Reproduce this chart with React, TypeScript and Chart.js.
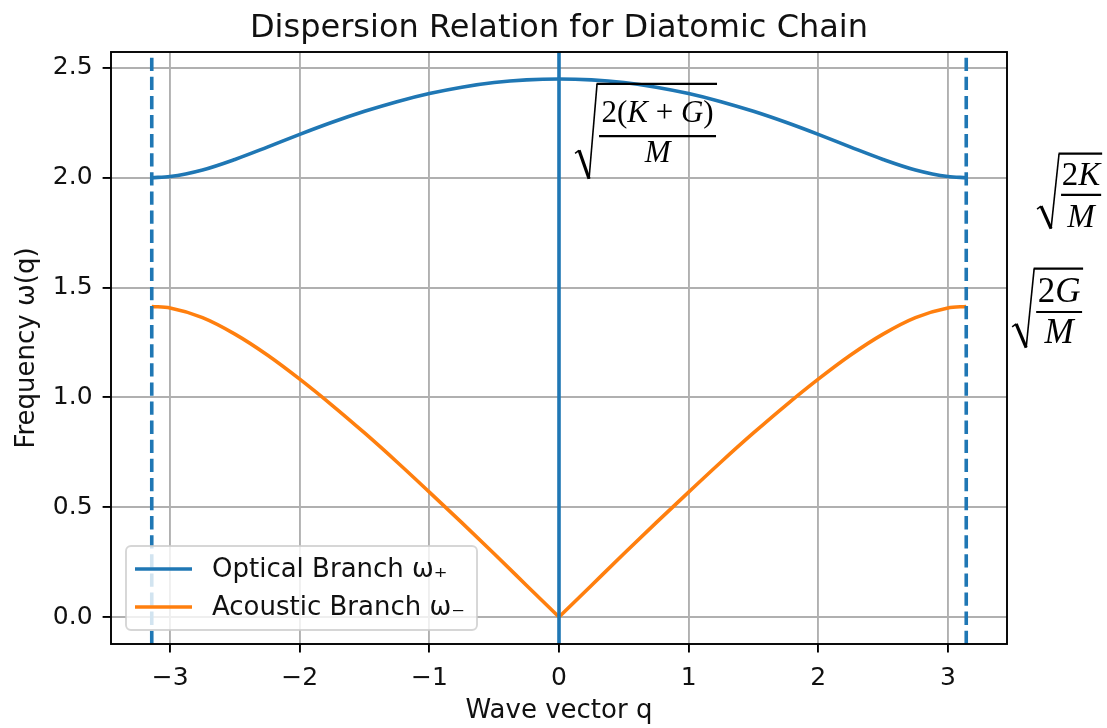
import React, { useEffect, useRef } from 'react';
import { Chart, registerables } from 'chart.js';

Chart.register(...registerables);

// ---- data ----
const Q_VALUES = [-3.1416, -3, -2.75, -2.5, -2.25, -2, -1.75, -1.5, -1.25, -1, -0.75, -0.5, -0.25, 0,
  0.25, 0.5, 0.75, 1, 1.25, 1.5, 1.75, 2, 2.25, 2.5, 2.75, 3, 3.1416];
const OPTICAL = [2.0, 2.005, 2.035, 2.083, 2.139, 2.197, 2.252, 2.302, 2.346, 2.383, 2.412, 2.433, 2.445, 2.449,
  2.445, 2.433, 2.412, 2.383, 2.346, 2.302, 2.252, 2.197, 2.139, 2.083, 2.035, 2.005, 2.0];
const ACOUSTIC = [1.414, 1.407, 1.363, 1.288, 1.193, 1.083, 0.964, 0.838, 0.706, 0.569, 0.43, 0.288, 0.144, 0,
  0.144, 0.288, 0.43, 0.569, 0.706, 0.838, 0.964, 1.083, 1.193, 1.288, 1.363, 1.407, 1.414];
const SERIES_NAMES = ['Optical Branch ω₊', 'Acoustic Branch ω₋'];
const SERIES_COLORS = ['#1f77b4', '#ff7f0e'];
const X_TICKS = [-3, -2, -1, 0, 1, 2, 3];
const Y_TICKS = [0, 0.5, 1, 1.5, 2, 2.5];
const X_RANGE = [-3.456, 3.456];
const Y_RANGE = [-0.1225, 2.572];
const ZONE_EDGES = [-3.1416, 3.1416]; // dashed vertical lines
const CENTER_LINES = [0]; // solid vertical line
const TITLE = 'Dispersion Relation for Diatomic Chain';
const X_LABEL = 'Wave vector q';
const Y_LABEL = 'Frequency ω(q)';

// math annotations (radical + fraction), anchored in data coordinates
type Run = [string, boolean];
const ANNOTATIONS: { x0: number; x1: number; yTop: number; yBottom: number; font: number; numGap: number; denGap: number; num: Run[]; den: Run[] }[] = [
  { x0: 0.147, x1: 1.219, yTop: 2.427, yBottom: 1.995, font: 31, numGap: 14, denGap: 26,
    num: [['2(', false], ['K', true], [' + ', false], ['G', true], [')', false]], den: [['M', true]] },
  { x0: 3.711, x1: 4.19, yTop: 2.109, yBottom: 1.768, font: 33, numGap: 10, denGap: 32,
    num: [['2', false], ['K', true]], den: [['M', true]] },
  { x0: 3.519, x1: 4.043, yTop: 1.586, yBottom: 1.227, font: 35, numGap: 10, denGap: 31,
    num: [['2', false], ['G', true]], den: [['M', true]] },
];

const SANS = '"DejaVu Sans", sans-serif';
const SERIF = '"Liberation Serif", "DejaVu Serif", serif';
const TEXT = '#111';
const LW = 3.6;
const TICK_FONT = 25;
const LABEL_FONT = 26;
const TITLE_FONT = 32;
const LEGEND_FONT = 26;

function fmtMinus(v: number, digits: number) {
  const s = v.toFixed(digits);
  return s.replace('-', '\u2212');
}

function drawRuns(ctx: CanvasRenderingContext2D, runs: Run[], cx: number, baseline: number, size: number) {
  const fontFor = (it: boolean) => `${it ? 'italic ' : ''}${size}px ${SERIF}`;
  let total = 0;
  const widths = runs.map(([t, it]) => {
    ctx.font = fontFor(it);
    const w = ctx.measureText(t).width;
    total += w;
    return w;
  });
  let xx = cx - total / 2;
  ctx.textAlign = 'left';
  ctx.textBaseline = 'alphabetic';
  runs.forEach(([t, it], i) => {
    ctx.font = fontFor(it);
    ctx.fillText(t, xx, baseline);
    xx += widths[i];
  });
}

const overlayPlugin = {
  id: 'overlay',
  beforeDraw(chart: any) {
    const { ctx, width, height } = chart;
    ctx.save();
    ctx.fillStyle = '#fff';
    ctx.fillRect(0, 0, width, height);
    ctx.restore();
  },
  afterDatasetsDraw(chart: any) {
    const { ctx, chartArea: ca, scales } = chart;
    const xs = scales.x;
    // vertical lines
    ctx.save();
    ctx.beginPath();
    ctx.rect(ca.left, ca.top, ca.right - ca.left, ca.bottom - ca.top);
    ctx.clip();
    ctx.strokeStyle = SERIES_COLORS[0];
    ctx.lineWidth = LW;
    ctx.lineCap = 'butt';
    const drawV = (v: number, dashed: boolean) => {
      const px = xs.getPixelForValue(v);
      ctx.setLineDash(dashed ? [13.3, 5.8] : []);
      ctx.beginPath();
      ctx.moveTo(px, ca.bottom);
      ctx.lineTo(px, ca.top);
      ctx.stroke();
    };
    ZONE_EDGES.forEach((v) => drawV(v, true));
    CENTER_LINES.forEach((v) => drawV(v, false));
    ctx.restore();

    // spines
    ctx.save();
    ctx.strokeStyle = '#000';
    ctx.lineWidth = 1.9;
    ctx.strokeRect(ca.left, ca.top, ca.right - ca.left, ca.bottom - ca.top);
    ctx.restore();

    // legend
    ctx.save();
    ctx.font = `${LEGEND_FONT}px ${SANS}`;
    const tw = Math.max(...SERIES_NAMES.map((n) => ctx.measureText(n).width));
    const bw = 86 + tw + 12;
    const bh = 84;
    const bx = ca.left + 15;
    const by = ca.bottom - 14 - bh;
    ctx.beginPath();
    ctx.roundRect(bx, by, bw, bh, 5);
    ctx.fillStyle = 'rgba(255,255,255,0.8)';
    ctx.fill();
    ctx.strokeStyle = 'rgba(204,204,204,0.8)';
    ctx.lineWidth = 1.9;
    ctx.stroke();
    SERIES_NAMES.forEach((name, i) => {
      const ry = by + 23 + i * 38;
      ctx.strokeStyle = SERIES_COLORS[i];
      ctx.lineWidth = LW;
      ctx.beginPath();
      ctx.moveTo(bx + 9, ry);
      ctx.lineTo(bx + 66, ry);
      ctx.stroke();
      ctx.fillStyle = TEXT;
      ctx.textAlign = 'left';
      ctx.textBaseline = 'middle';
      ctx.fillText(name, bx + 86, ry + 1);
    });
    ctx.restore();
  },
  afterDraw(chart: any) {
    const { ctx, chartArea: ca, scales } = chart;
    const xs = scales.x;
    const ys = scales.y;
    ctx.save();
    ctx.fillStyle = TEXT;
    // title
    ctx.font = `${TITLE_FONT}px ${SANS}`;
    ctx.textAlign = 'center';
    ctx.textBaseline = 'alphabetic';
    ctx.fillText(TITLE, (ca.left + ca.right) / 2, 37);
    // x label
    ctx.font = `${LABEL_FONT}px ${SANS}`;
    ctx.fillText(X_LABEL, (ca.left + ca.right) / 2, 718);
    // y label
    ctx.save();
    ctx.translate(34, (ca.top + ca.bottom) / 2);
    ctx.rotate(-Math.PI / 2);
    ctx.fillText(Y_LABEL, 0, 0);
    ctx.restore();

    // annotations
    ctx.strokeStyle = '#000';
    ctx.fillStyle = '#000';
    ANNOTATIONS.forEach((a) => {
      const L = xs.getPixelForValue(a.x0);
      const R = xs.getPixelForValue(a.x1);
      const T = ys.getPixelForValue(a.yTop);
      const B = ys.getPixelForValue(a.yBottom);
      const H = B - T;
      const vx = L + 19;
      const bpx = L + 11;
      const ty = B - 0.3 * H;
      ctx.lineCap = 'butt';
      ctx.lineJoin = 'miter';
      // small hook
      ctx.lineWidth = 1.5;
      ctx.beginPath();
      ctx.moveTo(L - 3, ty + 3);
      ctx.lineTo(L + 1, ty);
      ctx.stroke();
      // thick down stroke
      ctx.lineWidth = 3.2;
      ctx.beginPath();
      ctx.moveTo(L + 1, ty);
      ctx.lineTo(bpx, B);
      ctx.stroke();
      // thin up stroke
      ctx.lineWidth = 1.6;
      ctx.beginPath();
      ctx.moveTo(bpx, B);
      ctx.lineTo(vx, T);
      ctx.stroke();
      // overline
      ctx.lineWidth = 2.2;
      ctx.beginPath();
      ctx.moveTo(vx - 0.5, T);
      ctx.lineTo(R, T);
      ctx.stroke();
      // fraction bar
      const barY = T + 0.55 * H;
      const fl = vx + 2;
      const fr = R - 1;
      ctx.beginPath();
      ctx.moveTo(fl, barY);
      ctx.lineTo(fr, barY);
      ctx.stroke();
      const cx = (fl + fr) / 2;
      drawRuns(ctx, a.num, cx, barY - a.numGap, a.font);
      drawRuns(ctx, a.den, cx, barY + a.denGap, a.font);
    });
    ctx.restore();
  },
};

export default function App() {
  const canvasRef = useRef<HTMLCanvasElement | null>(null);

  useEffect(() => {
    const canvas = canvasRef.current;
    if (!canvas) return;
    const toPoints = (vals: number[], keep: (q: number) => boolean) =>
      Q_VALUES.map((q, i) => ({ x: q, y: vals[i] })).filter((p) => keep(p.x));
    const lineStyle = (color: string) => ({
      borderColor: color,
      backgroundColor: color,
      borderWidth: LW,
      pointRadius: 0,
      cubicInterpolationMode: 'monotone',
      fill: false,
    });
    const chart = new Chart(canvas, {
      type: 'line',
      data: {
        datasets: [
          { label: SERIES_NAMES[0], data: toPoints(OPTICAL, () => true), ...lineStyle(SERIES_COLORS[0]) },
          // acoustic branch has a cusp at q = 0: drawn as two smooth halves meeting there
          { label: SERIES_NAMES[1], data: toPoints(ACOUSTIC, (q) => q <= 0), ...lineStyle(SERIES_COLORS[1]) },
          { label: SERIES_NAMES[1], data: toPoints(ACOUSTIC, (q) => q >= 0), ...lineStyle(SERIES_COLORS[1]) },
        ],
      },
      options: {
        responsive: false,
        animation: false,
        devicePixelRatio: 1,
        layout: { padding: { top: 52, right: 100, left: 0, bottom: 0 } },
        plugins: {
          legend: { display: false },
          title: { display: false },
          tooltip: { enabled: false },
        },
        scales: {
          x: {
            type: 'linear',
            min: X_RANGE[0],
            max: X_RANGE[1],
            afterBuildTicks: (axis: any) => {
              axis.ticks = X_TICKS.map((v) => ({ value: v }));
            },
            afterFit: (axis: any) => {
              axis.height = 84;
            },
            ticks: {
              autoSkip: false,
              maxRotation: 0,
              color: TEXT,
              font: { family: 'DejaVu Sans', size: TICK_FONT },
              padding: 11,
              callback: (v: any) => fmtMinus(Number(v), 0),
            },
            grid: {
              color: '#b0b0b0',
              lineWidth: 1.9,
              tickColor: '#000',
              tickWidth: 1.9,
              tickLength: 8.4,
            },
            border: { display: false },
          },
          y: {
            type: 'linear',
            min: Y_RANGE[0],
            max: Y_RANGE[1],
            afterBuildTicks: (axis: any) => {
              axis.ticks = Y_TICKS.map((v) => ({ value: v }));
            },
            afterFit: (axis: any) => {
              axis.width = 111;
            },
            ticks: {
              autoSkip: false,
              color: TEXT,
              font: { family: 'DejaVu Sans', size: TICK_FONT },
              padding: 10,
              callback: (v: any) => fmtMinus(Number(v), 1),
            },
            grid: {
              color: '#b0b0b0',
              lineWidth: 1.9,
              tickColor: '#000',
              tickWidth: 1.9,
              tickLength: 8.4,
            },
            border: { display: false },
          },
        },
      },
      plugins: [overlayPlugin],
    } as any);
    return () => chart.destroy();
  }, []);

  return (
    <div style={{ position: 'absolute', left: 0, top: 0, width: 1107, height: 728 }}>
      <canvas ref={canvasRef} width={1107} height={728} style={{ width: 1107, height: 728, display: 'block' }} />
    </div>
  );
}
